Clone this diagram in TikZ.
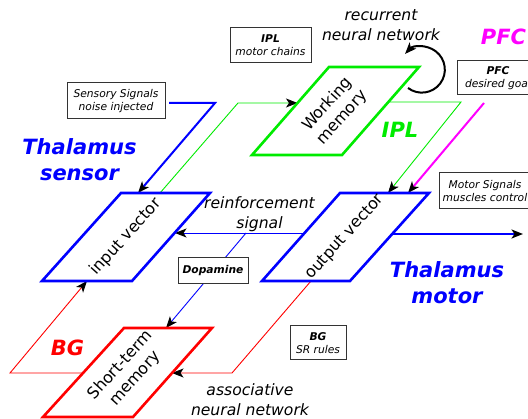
\documentclass[tikz,border=0pt]{standalone}
\usepackage{fontspec}
\setmainfont{DejaVu Sans}
\usetikzlibrary{arrows.meta}
\definecolor{cblue}{RGB}{0,0,255}
\definecolor{cgreen}{RGB}{0,235,0}
\definecolor{cred}{RGB}{255,0,0}
\definecolor{cmag}{RGB}{255,0,255}
\tikzset{
  para/.style={line width=2.6pt, line join=miter},
  thinline/.style={line width=0.9pt},
  thickline/.style={line width=2pt},
  arr/.style={-{Stealth[length=11.5pt,width=9pt,inset=3pt,color=black]}},
  box/.style={draw=black!80, line width=1pt, fill=white, inner sep=0pt, align=center,
    font=\fontsize{10.7}{13}\selectfont\itshape},
  big/.style={font=\fontsize{21}{26}\selectfont\bfseries\itshape, align=center},
  lbl/.style={font=\fontsize{15.6}{20}\selectfont\itshape, align=center},
  inlbl/.style={font=\fontsize{16}{20}\selectfont, align=center, rotate=48}
}
\begin{document}
\begin{tikzpicture}[x=1pt,y=-1pt]
\useasboundingbox (0,0) rectangle (528,419);

% connector end points
\coordinate (sensA) at (169,103);
\coordinate (sensB) at (215,103);
\coordinate (ivTopIn) at (138,193);
\coordinate (ivTopOut) at (160,193);
\coordinate (gA) at (238,103);
\coordinate (wmIn) at (297.5,103);
\coordinate (wmOut) at (388,102);
\coordinate (gB) at (461,102);
\coordinate (ovTopG) at (388,193);
\coordinate (pfcA) at (484,103);
\coordinate (ovTopM) at (408,193);
\coordinate (ovRight) at (392,234);
\coordinate (motEnd) at (523,234);
\coordinate (ovLeft) at (304.5,233);
\coordinate (ivRight) at (175,233);
\coordinate (dopA) at (246,233);
\coordinate (stTop) at (166,328);
\coordinate (ovBot) at (311,281);
\coordinate (rA) at (232,373);
\coordinate (stRight) at (172,373);
\coordinate (stLeft) at (83,373);
\coordinate (rB) at (10,373);
\coordinate (ivBot) at (87,281);

% connectors
\draw[cblue, thickline, arr] (sensA) -- (sensB) -- (ivTopIn);
\draw[cgreen, thinline, arr] (ivTopOut) -- (gA) -- (wmIn);
\draw[cgreen, thinline, arr] (wmOut) -- (gB) -- (ovTopG);
\draw[cmag, thickline, arr] (pfcA) -- (ovTopM);
\draw[cblue, thickline, arr] (ovRight) -- (motEnd);
\draw[cblue, thinline, arr] (ovLeft) -- (ivRight);
\draw[cblue, thinline, arr] (dopA) -- (stTop);
\draw[cred, thinline, arr] (ovBot) -- (rA) -- (stRight);
\draw[cred, thinline, arr] (stLeft) -- (rB) -- (ivBot);
\draw[black, thickline, arr] (408,88) arc[start angle=127, end angle=-137, radius=23];

% parallelograms
\draw[cblue, para] (42,281) -- (132,281) -- (210,193) -- (121,193) -- cycle;
\draw[cblue, para] (262,281) -- (350,281) -- (429,193) -- (340,193) -- cycle;
\draw[cgreen, para] (252,155) -- (342,155) -- (419,67) -- (329,67) -- cycle;
\draw[cred, para] (43,417) -- (133,417) -- (212,328) -- (124,328) -- cycle;

% labels inside
\node[inlbl] (iv) at (126,237) {input vector};
\node[inlbl] (ov) at (345,237) {output vector};
\node[inlbl] (wm) at (335,111) {Working\\memory};
\node[inlbl] (stm) at (128,372) {Short-term\\memory};

% big labels
\node[big, text=cblue] (thsens) at (79.5,160) {Thalamus\\sensor};
\node[big, text=cblue] (thmot) at (447,283) {Thalamus\\motor};
\node[big, text=cgreen] (ipl) at (400,130) {IPL};
\node[big, text=cmag] (pfc) at (503.5,37) {PFC};
\node[big, text=cred] (bg) at (67.5,348) {BG};

% italic labels
\node[lbl] (rnn) at (381,25) {recurrent\\neural network};
\node[lbl] (reinf) at (259.5,214) {reinforcement\\signal};
\node[lbl] (ann) at (250,400) {associative\\neural network};

% boxes
\node[box, minimum width=98pt, minimum height=36pt] (sens) at (116,101) {Sensory Signals\\noise injected};
\node[box, minimum width=81pt, minimum height=35pt] (iplbox) at (270.5,45.5) {{\bfseries IPL}\\motor chains};
\node[box, minimum width=82pt, minimum height=34pt] (pfcbox) at (498,78) {{\bfseries PFC}\\desired goal};
\node[box, minimum width=92pt, minimum height=36pt] (motbox) at (485,191) {Motor Signals\\muscles control};
\node[box, minimum width=70pt, minimum height=26pt, font=\fontsize{10.7}{13}\selectfont\bfseries\itshape] (dopa) at (213,271) {Dopamine};
\node[box, minimum width=56pt, minimum height=34pt] (bgbox) at (318,343) {{\bfseries BG}\\SR rules};
\end{tikzpicture}
\end{document}
